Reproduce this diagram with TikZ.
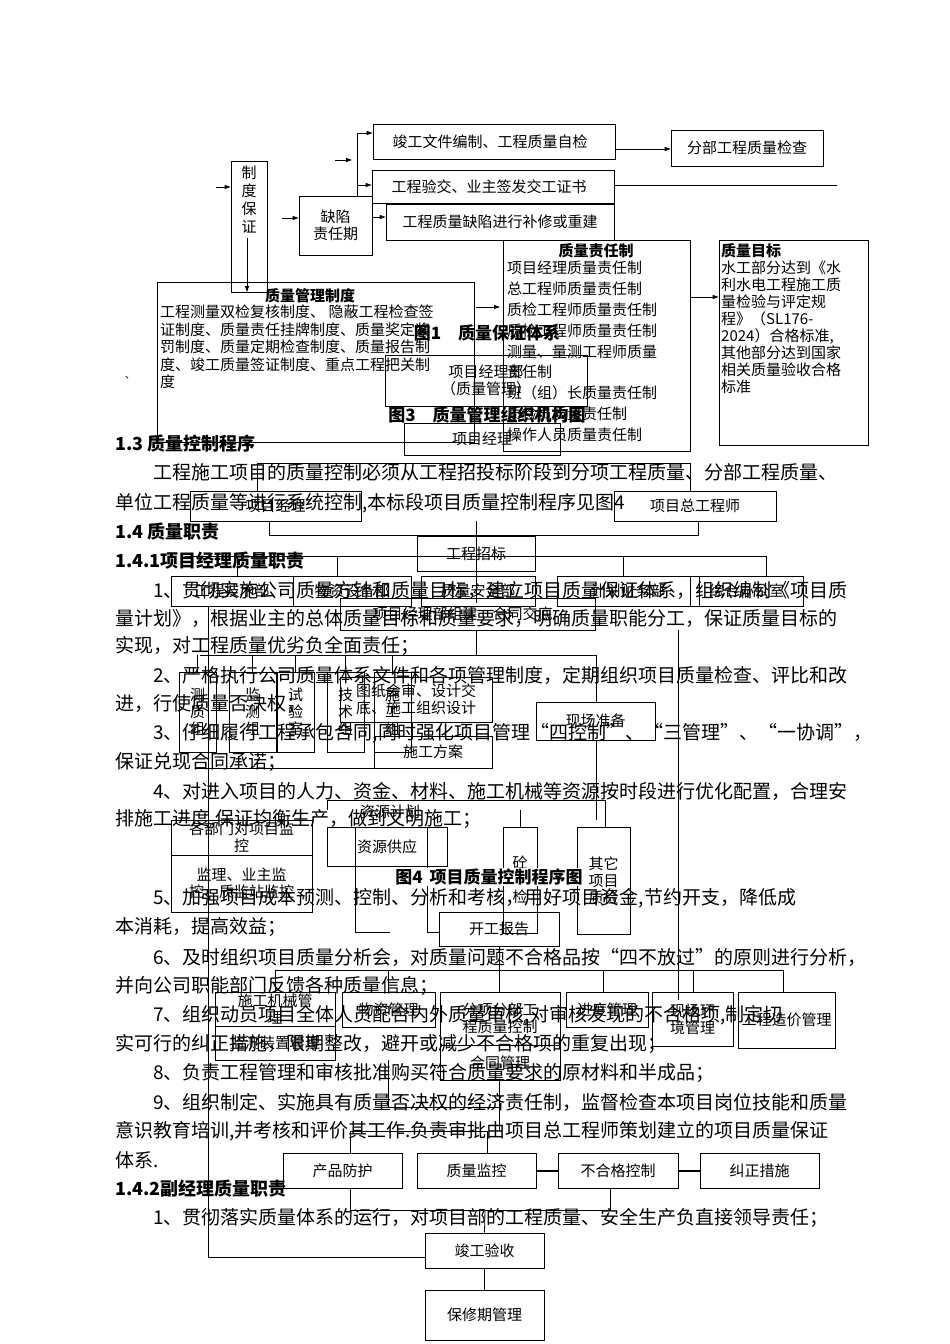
\documentclass[tikz,border=0pt]{standalone}
\usepackage{fontspec}
\setmainfont{Noto Sans CJK SC}
\usetikzlibrary{arrows.meta}
\tikzset{
 bx/.style={draw,line width=0.8pt,inner sep=1pt,align=center,font=\fontsize{15}{17}\selectfont},
 ln/.style={line width=0.8pt},
 ar/.style={line width=0.8pt,-{Triangle[length=6pt,width=4pt]}},
 body/.style={anchor=west,inner sep=0,font=\fontsize{19}{20}\selectfont},
 hd/.style={anchor=west,inner sep=0,font=\fontsize{18}{20}\selectfont\bfseries},
 figcap/.style={inner sep=0,font=\fontsize{17}{20}\selectfont\bfseries}
}
\newcommand{\bx}[6]{\node[bx,minimum width={#4-#2},minimum height={#5-#3}] (#1) at ({(#2+#4)/2},{(#3+#5)/2}) {#6};}
\begin{document}
\begin{tikzpicture}[x=1pt,y=-1pt]
\useasboundingbox (0,0) rectangle (950,1344);
\fill[white] (0,0) rectangle (950,1344);
% ---------- body text ----------
\node[hd] at (115,444) {1.3 质量控制程序};
\node[body] at (153,472) {工程施工项目的质量控制必须从工程招投标阶段到分项工程质量、分部工程质量、};
\node[body] at (115,503) {单位工程质量等进行系统控制,本标段项目质量控制程序见图4};
\node[hd] at (115,532) {1.4 质量职责};
\node[hd] at (115,561) {1.4.1项目经理质量职责};
\node[body] at (153,590) {1、贯彻实施公司质量方针和质量目标，建立项目质量保证体系，组织编制《项目质};
\node[body] at (115,618) {量计划》，根据业主的总体质量目标和质量要求，明确质量职能分工，保证质量目标的};
\node[body] at (115,646) {实现，对工程质量优劣负全面责任；};
\node[body] at (153,675) {2、严格执行公司质量体系文件和各项管理制度，定期组织项目质量检查、评比和改};
\node[body] at (115,704) {进，行使质量否决权；};
\node[body] at (153,733) {3、仔细履行工程承包合同,同时强化项目管理“四控制”、“三管理”、“一协调”，};
\node[body] at (115,762) {保证兑现合同承诺；};
\node[body] at (153,791) {4、对进入项目的人力、资金、材料、施工机械等资源按时段进行优化配置，合理安};
\node[body] at (115,819) {排施工进度,保证均衡生产，做到文明施工；};
\node[body] at (153,898) {5、加强项目成本预测、控制、分析和考核，用好项目资金,节约开支，降低成};
\node[body] at (115,927) {本消耗，提高效益；};
\node[body] at (153,957) {6、及时组织项目质量分析会，对质量问题不合格品按“四不放过”的原则进行分析，};
\node[body] at (115,986) {并向公司职能部门反馈各种质量信息；};
\node[body] at (153,1015) {7、组织动员项目全体人员配合内外质量审核,对审核发现的不合格项,制定切};
\node[body] at (115,1044) {实可行的纠正措施，限期整改，避开或减少不合格项的重复出现；};
\node[body] at (153,1073) {8、负责工程管理和审核批准购买符合质量要求的原材料和半成品；};
\node[body] at (153,1102) {9、组织制定、实施具有质量否决权的经济责任制，监督检查本项目岗位技能和质量};
\node[body] at (115,1131) {意识教育培训,并考核和评价其工作.负责审批由项目总工程师策划建立的项目质量保证};
\node[body] at (115,1160) {体系.};
\node[hd] at (115,1189) {1.4.2副经理质量职责};
\node[body] at (153,1218) {1、贯彻落实质量体系的运行，对项目部的工程质量、安全生产负直接领导责任；};
% ---------- figure 1 ----------
\bx{zd}{231}{161}{267}{292}{}
\node[inner sep=0,align=center,font=\fontsize{15}{18}\selectfont] at (249,200) {制\\度\\保\\证};
\bx{qx}{299}{196}{372}{255}{缺陷\\责任期}
\bx{jg}{373}{124}{615}{159}{\hspace*{-8pt}竣工文件编制、工程质量自检}
\bx{yj}{372}{170}{614}{203}{\hspace*{-8pt}工程验交、业主签发交工证书}
\bx{qxb}{386}{204}{614}{240}{工程质量缺陷进行补修或重建}
\bx{fb}{671}{130}{823}{166}{分部工程质量检查}
\coordinate (c1) at (216,187);
\draw[ar] (c1) -- (zd.west|-c1);
\coordinate (c2) at (282,218);
\draw[ar] (c2) -- (qx.west|-c2);
\draw[ln] (357,196) -- (357,133);
\draw[ar] (357,133) -- (jg.west|-0,133);
\draw[ar] (357,185) -- (yj.west|-0,185);
\draw[ar] (372,217) -- (qxb.west|-0,217);
\draw[ar] (335,160) -- (352,160);
\draw[ar] (jg.east|-0,149) -- (fb.west|-0,149);
\coordinate (c3) at (837,185);
\draw[ln] (yj.east|-c3) -- (c3);
\draw[ar] (247,238) -- (247,292);
\bx{zr}{503}{240}{690}{451}{}
\node[inner sep=0,font=\fontsize{15}{17}\selectfont\bfseries] at (596,251) {质量责任制};
\node[anchor=north west,inner sep=0,align=left,font=\fontsize{15}{20.8}\selectfont] at (507,261) {项目经理质量责任制\\总工程师质量责任制\\质检工程师质量责任制\\质检工程师质量责任制\\测量、量测工程师质量\\责任制\\班（组）长质量责任制\\质检员质量责任制\\操作人员质量责任制};
\bx{mb}{719}{240}{868}{445}{}
\node[anchor=north west,inner sep=0,align=left,font=\fontsize{15}{17}\selectfont] at (721,243) {\textbf{质量目标}\\水工部分达到《水\\利水电工程施工质\\量检验与评定规\\程》（SL176-\\2024）合格标准,\\其他部分达到国家\\相关质量验收合格\\标准};
\draw[ar] (zr.east|-0,297) -- (mb.west|-0,297);
\draw[ln] (157,282) -- (474,282) -- (474,442) -- (157,442) -- cycle;
\node[inner sep=0,font=\fontsize{15}{17}\selectfont\bfseries] at (310,296) {质量管理制度};
\node[anchor=north west,inner sep=0,align=left,font=\fontsize{15}{17.5}\selectfont] at (160,305) {工程测量双检复核制度、 隐蔽工程检查签\\证制度、质量责任挂牌制度、质量奖定奖\\罚制度、质量定期检查制度、质量报告制\\度、竣工质量签证制度、重点工程把关制\\度};
\draw[ar] (476,307) -- (500,307);
\node at (130,378) {、};
\node[figcap] at (487,333) {图1\quad 质量保证体系};
\bx{xb}{385}{355}{587}{406}{项目经理部\\（质量管理）}
\node[figcap] at (487,415) {图3\quad 质量管理组织机构图};
\bx{xj0}{404}{423}{560}{455}{项目经理}
% ---------- figure 4 ----------
\bx{xj}{190}{491}{361}{521}{项目经理}
\bx{zg}{614}{491}{776}{521}{项目总工程师}
\draw[ln] (257,491) -- (257,463) -- (690,463) -- (690,491);
\draw[ln] (269,521) -- (269,535) -- (698,535) -- (698,521);
\bx{zb}{417}{536}{535}{571}{工程招标}
\draw[ln] (476,521) -- (476,603);
\draw[ln] (185,556) -- (766,556);
\bx{d1}{171}{576}{293}{606}{工程技术部}
\bx{d2}{293}{576}{411}{606}{物资设备部}
\bx{d3}{421}{576}{535}{606}{质量安全部}
\bx{d4}{557}{576}{699}{606}{计划财务部}
\bx{d5}{690}{576}{803}{606}{综合办公室}
\foreach \xx in {237,337,476,623,766} \draw[ln] (\xx,556) -- (\xx,576);
\bx{zj}{340}{598}{595}{630}{\hspace*{-10pt}项目经理部组建\quad 合同交底}
\draw[ln] (476,630) -- (476,655);
\draw[ln] (200,655) -- (596,655);
\bx{t1}{179}{672}{216}{752}{测\\质\\组}
\bx{t2}{229}{672}{276}{752}{监\\测\\组}
\bx{t3}{277}{672}{314}{752}{试\\验\\室}
\bx{t4}{327}{672}{364}{752}{技\\术\\组}
\bx{t5}{374}{672}{411}{752}{施\\工\\组}
\foreach \xx in {197,252,295,345,392} \draw[ln] (\xx,655) -- (\xx,672);
\bx{tz}{340}{677}{492}{722}{图纸会审、设计交\\底、施工组织设计}
\bx{fa}{374}{736}{492}{768}{施工方案}
\bx{xc}{536}{702}{655}{740}{现场准备}
\draw[ln] (596,655) -- (596,702);
\draw[ln] (678,630) -- (678,1000);
\draw[ln] (596,740) -- (596,820);
\draw[ln] (196,768) -- (490,768);
\draw[ln] (208,606) -- (208,1257) -- (425,1257);
\node[inner sep=0,font=\fontsize{15}{17}\selectfont] at (390,812) {资源计划};
\draw[ln] (327,810) -- (327,800) -- (605,800) -- (605,827);
\bx{gy}{327}{827}{447}{866}{资源供应}
\bx{jk1}{171}{820}{312}{855}{各部门对项目监\\控}
\bx{jk2}{171}{855}{312}{912}{监理、业主监\\控、质监站监控}
\bx{tj}{503}{827}{537}{933}{砼\\质\\检}
\bx{qt}{577}{827}{630}{934}{其它\\项目\\质检}
\draw[ln] (520,810) -- (520,827);
\draw[ln] (355,827) -- (355,932) -- (390,932);
\draw[ln] (427,827) -- (427,932) -- (439,932);
\node[figcap,fill=white,inner sep=1pt] at (489,877) {图4\, 项目质量控制程序图};
\bx{kg}{439}{912}{559}{946}{开工报告}
\draw[ln] (kg.south) -- (499,992);
\draw[ln] (275,970) -- (783,970);
\foreach \xx in {275,388,603,693,783} \draw[ln] (\xx,970) -- (\xx,992);
\bx{m1}{215}{992}{335}{1026}{施工机械管\\理}
\bx{m1b}{215}{1026}{335}{1060}{监测装置管理}
\bx{m2}{342}{992}{435}{1027}{物资管理}
\bx{m3}{440}{992}{560}{1045}{分项分部工\\程质量控制}
\bx{m3b}{440}{1045}{560}{1080}{合同管理}
\bx{m4}{566}{992}{648}{1027}{进度管理}
\bx{m5}{652}{992}{733}{1046}{现场环\\境管理}
\bx{m6}{738}{992}{835}{1048}{工程造价管理}
\draw[ln] (388,1060) -- (388,1107) -- (499,1107);
\draw[ln] (499,1080) -- (499,1131);
\draw[ln] (350,1131) -- (487,1131);
\draw[ln] (350,1131) -- (350,1153);
\draw[ln] (487,1131) -- (487,1153);
\bx{p1}{283}{1153}{402}{1188}{产品防护}
\bx{p2}{417}{1153}{536}{1188}{质量监控}
\bx{p3}{558}{1153}{678}{1188}{不合格控制}
\bx{p4}{700}{1153}{819}{1188}{纠正措施}
\draw[line width=2pt] (p2) -- (p3);
\draw[line width=2pt] (p3) -- (p4);
\draw[ln] (350,1188) -- (350,1210) -- (610,1210) -- (610,1188);
\bx{ys}{425}{1233}{544}{1268}{竣工验收}
\draw[ln] (485,1210) -- (ys.north);
\bx{bx2}{425}{1290}{544}{1340}{保修期管理}
\draw[ln] (ys) -- (bx2);
\end{tikzpicture}
\end{document}
